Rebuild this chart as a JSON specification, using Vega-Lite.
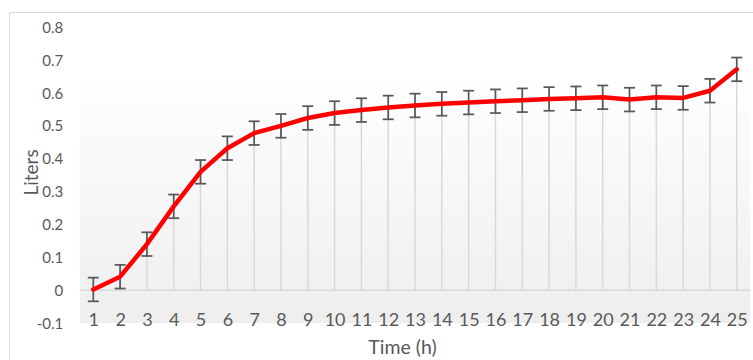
{
  "$schema": "https://vega.github.io/schema/vega-lite/v6.json",
  "autosize": {"type": "none"},
  "padding": {"left": 9, "top": 12, "right": 0, "bottom": 0},
  "width": 744,
  "height": 348,
  "background": "#ffffff",
  "config": {
    "view": {"stroke": "#d9d9d9", "strokeWidth": 1},
    "font": "Lato",
    "axis": {"labelOverlap": false, "labelFlush": false, "labelBound": false, "zindex": 1}
  },
  "datasets": {
    "series": [
      {"t": 1, "v": 0.002, "lo": -0.034, "hi": 0.038},
      {"t": 2, "v": 0.041, "lo": 0.005, "hi": 0.077},
      {"t": 3, "v": 0.14, "lo": 0.104, "hi": 0.176},
      {"t": 4, "v": 0.255, "lo": 0.219, "hi": 0.291},
      {"t": 5, "v": 0.36, "lo": 0.324, "hi": 0.396},
      {"t": 6, "v": 0.432, "lo": 0.396, "hi": 0.468},
      {"t": 7, "v": 0.478, "lo": 0.442, "hi": 0.514},
      {"t": 8, "v": 0.5, "lo": 0.464, "hi": 0.536},
      {"t": 9, "v": 0.524, "lo": 0.488, "hi": 0.56},
      {"t": 10, "v": 0.539, "lo": 0.503, "hi": 0.575},
      {"t": 11, "v": 0.548, "lo": 0.512, "hi": 0.584},
      {"t": 12, "v": 0.556, "lo": 0.52, "hi": 0.592},
      {"t": 13, "v": 0.562, "lo": 0.526, "hi": 0.598},
      {"t": 14, "v": 0.567, "lo": 0.531, "hi": 0.603},
      {"t": 15, "v": 0.571, "lo": 0.535, "hi": 0.607},
      {"t": 16, "v": 0.575, "lo": 0.539, "hi": 0.611},
      {"t": 17, "v": 0.578, "lo": 0.542, "hi": 0.614},
      {"t": 18, "v": 0.582, "lo": 0.546, "hi": 0.618},
      {"t": 19, "v": 0.584, "lo": 0.548, "hi": 0.62},
      {"t": 20, "v": 0.587, "lo": 0.551, "hi": 0.623},
      {"t": 21, "v": 0.58, "lo": 0.544, "hi": 0.616},
      {"t": 22, "v": 0.587, "lo": 0.551, "hi": 0.623},
      {"t": 23, "v": 0.585, "lo": 0.549, "hi": 0.621},
      {"t": 24, "v": 0.607, "lo": 0.571, "hi": 0.643},
      {"t": 25, "v": 0.672, "lo": 0.636, "hi": 0.708}
    ],
    "plotarea": [
      {"x1": 0.5, "x2": 25.5, "y1": -0.1, "y2": 0.685, "zero": 0}
    ]
  },
  "layer": [
    {
      "data": {"name": "plotarea"},
      "mark": {
        "type": "rect",
        "fill": {
          "gradient": "linear",
          "x1": 0, "y1": 0, "x2": 0, "y2": 1,
          "stops": [
            {"offset": 0, "color": "#ffffff"},
            {"offset": 1, "color": "#eeeeee"}
          ]
        }
      },
      "encoding": {
        "x": {
          "field": "x1", "type": "quantitative",
          "scale": {"domain": [-2.144, 25.606], "nice": false, "zero": false},
          "axis": {
            "values": [1,2,3,4,5,6,7,8,9,10,11,12,13,14,15,16,17,18,19,20,21,22,23,24,25],
            "tickCount": 100,
            "format": "d",
            "orient": "bottom",
            "offset": -40,
            "domain": false,
            "ticks": false,
            "tickSize": 0,
            "grid": false,
            "labelPadding": 5,
            "labelBaseline": "alphabetic",
            "labelFontSize": 18,
            "labelColor": "#595959",
            "labelFlush": false,
            "labelOverlap": false,
            "title": "Time (h)",
            "titleFontSize": 19.5,
            "titleFontWeight": "normal",
            "titleColor": "#595959",
            "titleX": 393,
            "titleY": 33,
            "titleAlign": "center",
            "titleBaseline": "alphabetic",
            "zindex": 1
          }
        },
        "x2": {"field": "x2"},
        "y": {
          "field": "y1", "type": "quantitative",
          "scale": {"domain": [-0.2126, 0.8466], "nice": false, "zero": false},
          "axis": {
            "values": [-0.1, 0, 0.1, 0.2, 0.3, 0.4, 0.5, 0.6, 0.7, 0.8],
            "tickCount": 100,
            "labelExpr": "datum.value == 0 ? '0' : (datum.value < 0 ? '-' + format(-datum.value, '.1f') : format(datum.value, '.1f'))",
            "orient": "left",
            "offset": -58,
            "domain": false,
            "ticks": false,
            "tickSize": 0,
            "grid": false,
            "labelPadding": 4.3,
            "labelFontSize": 15,
            "labelColor": "#595959",
            "labelFlush": false,
            "labelOverlap": false,
            "title": "Liters",
            "titleFontSize": 19,
            "titleFontWeight": "normal",
            "titleColor": "#595959",
            "titleX": -30,
            "titleY": 160,
            "titleAlign": "center",
            "titleBaseline": "alphabetic",
            "titleAngle": 270,
            "zindex": 1
          }
        },
        "y2": {"field": "y2"}
      }
    },
    {
      "data": {"name": "plotarea"},
      "mark": {"type": "rule", "color": "#d9d9d9", "strokeWidth": 1.5},
      "encoding": {
        "x": {"field": "x1", "type": "quantitative"},
        "x2": {"field": "x2"},
        "y": {"field": "zero", "type": "quantitative"}
      }
    },
    {
      "data": {"name": "series"},
      "mark": {"type": "rule", "color": "#d9d9d9", "strokeWidth": 1.5},
      "encoding": {
        "x": {"field": "t", "type": "quantitative"},
        "y": {"field": "v", "type": "quantitative"},
        "y2": {"datum": 0}
      }
    },
    {
      "data": {"name": "series"},
      "mark": {"type": "rule", "color": "#595959", "strokeWidth": 1.75},
      "encoding": {
        "x": {"field": "t", "type": "quantitative"},
        "y": {"field": "lo", "type": "quantitative"},
        "y2": {"field": "hi"}
      }
    },
    {
      "data": {"name": "series"},
      "mark": {"type": "tick", "orient": "horizontal", "color": "#595959", "size": 11, "thickness": 1.75, "opacity": 1},
      "encoding": {
        "x": {"field": "t", "type": "quantitative"},
        "y": {"field": "lo", "type": "quantitative"}
      }
    },
    {
      "data": {"name": "series"},
      "mark": {"type": "tick", "orient": "horizontal", "color": "#595959", "size": 11, "thickness": 1.75, "opacity": 1},
      "encoding": {
        "x": {"field": "t", "type": "quantitative"},
        "y": {"field": "hi", "type": "quantitative"}
      }
    },
    {
      "data": {"name": "series"},
      "mark": {"type": "line", "color": "#ff0000", "strokeWidth": 4.5, "strokeJoin": "round", "strokeCap": "round"},
      "encoding": {
        "x": {"field": "t", "type": "quantitative"},
        "y": {"field": "v", "type": "quantitative"}
      }
    }
  ]
}
